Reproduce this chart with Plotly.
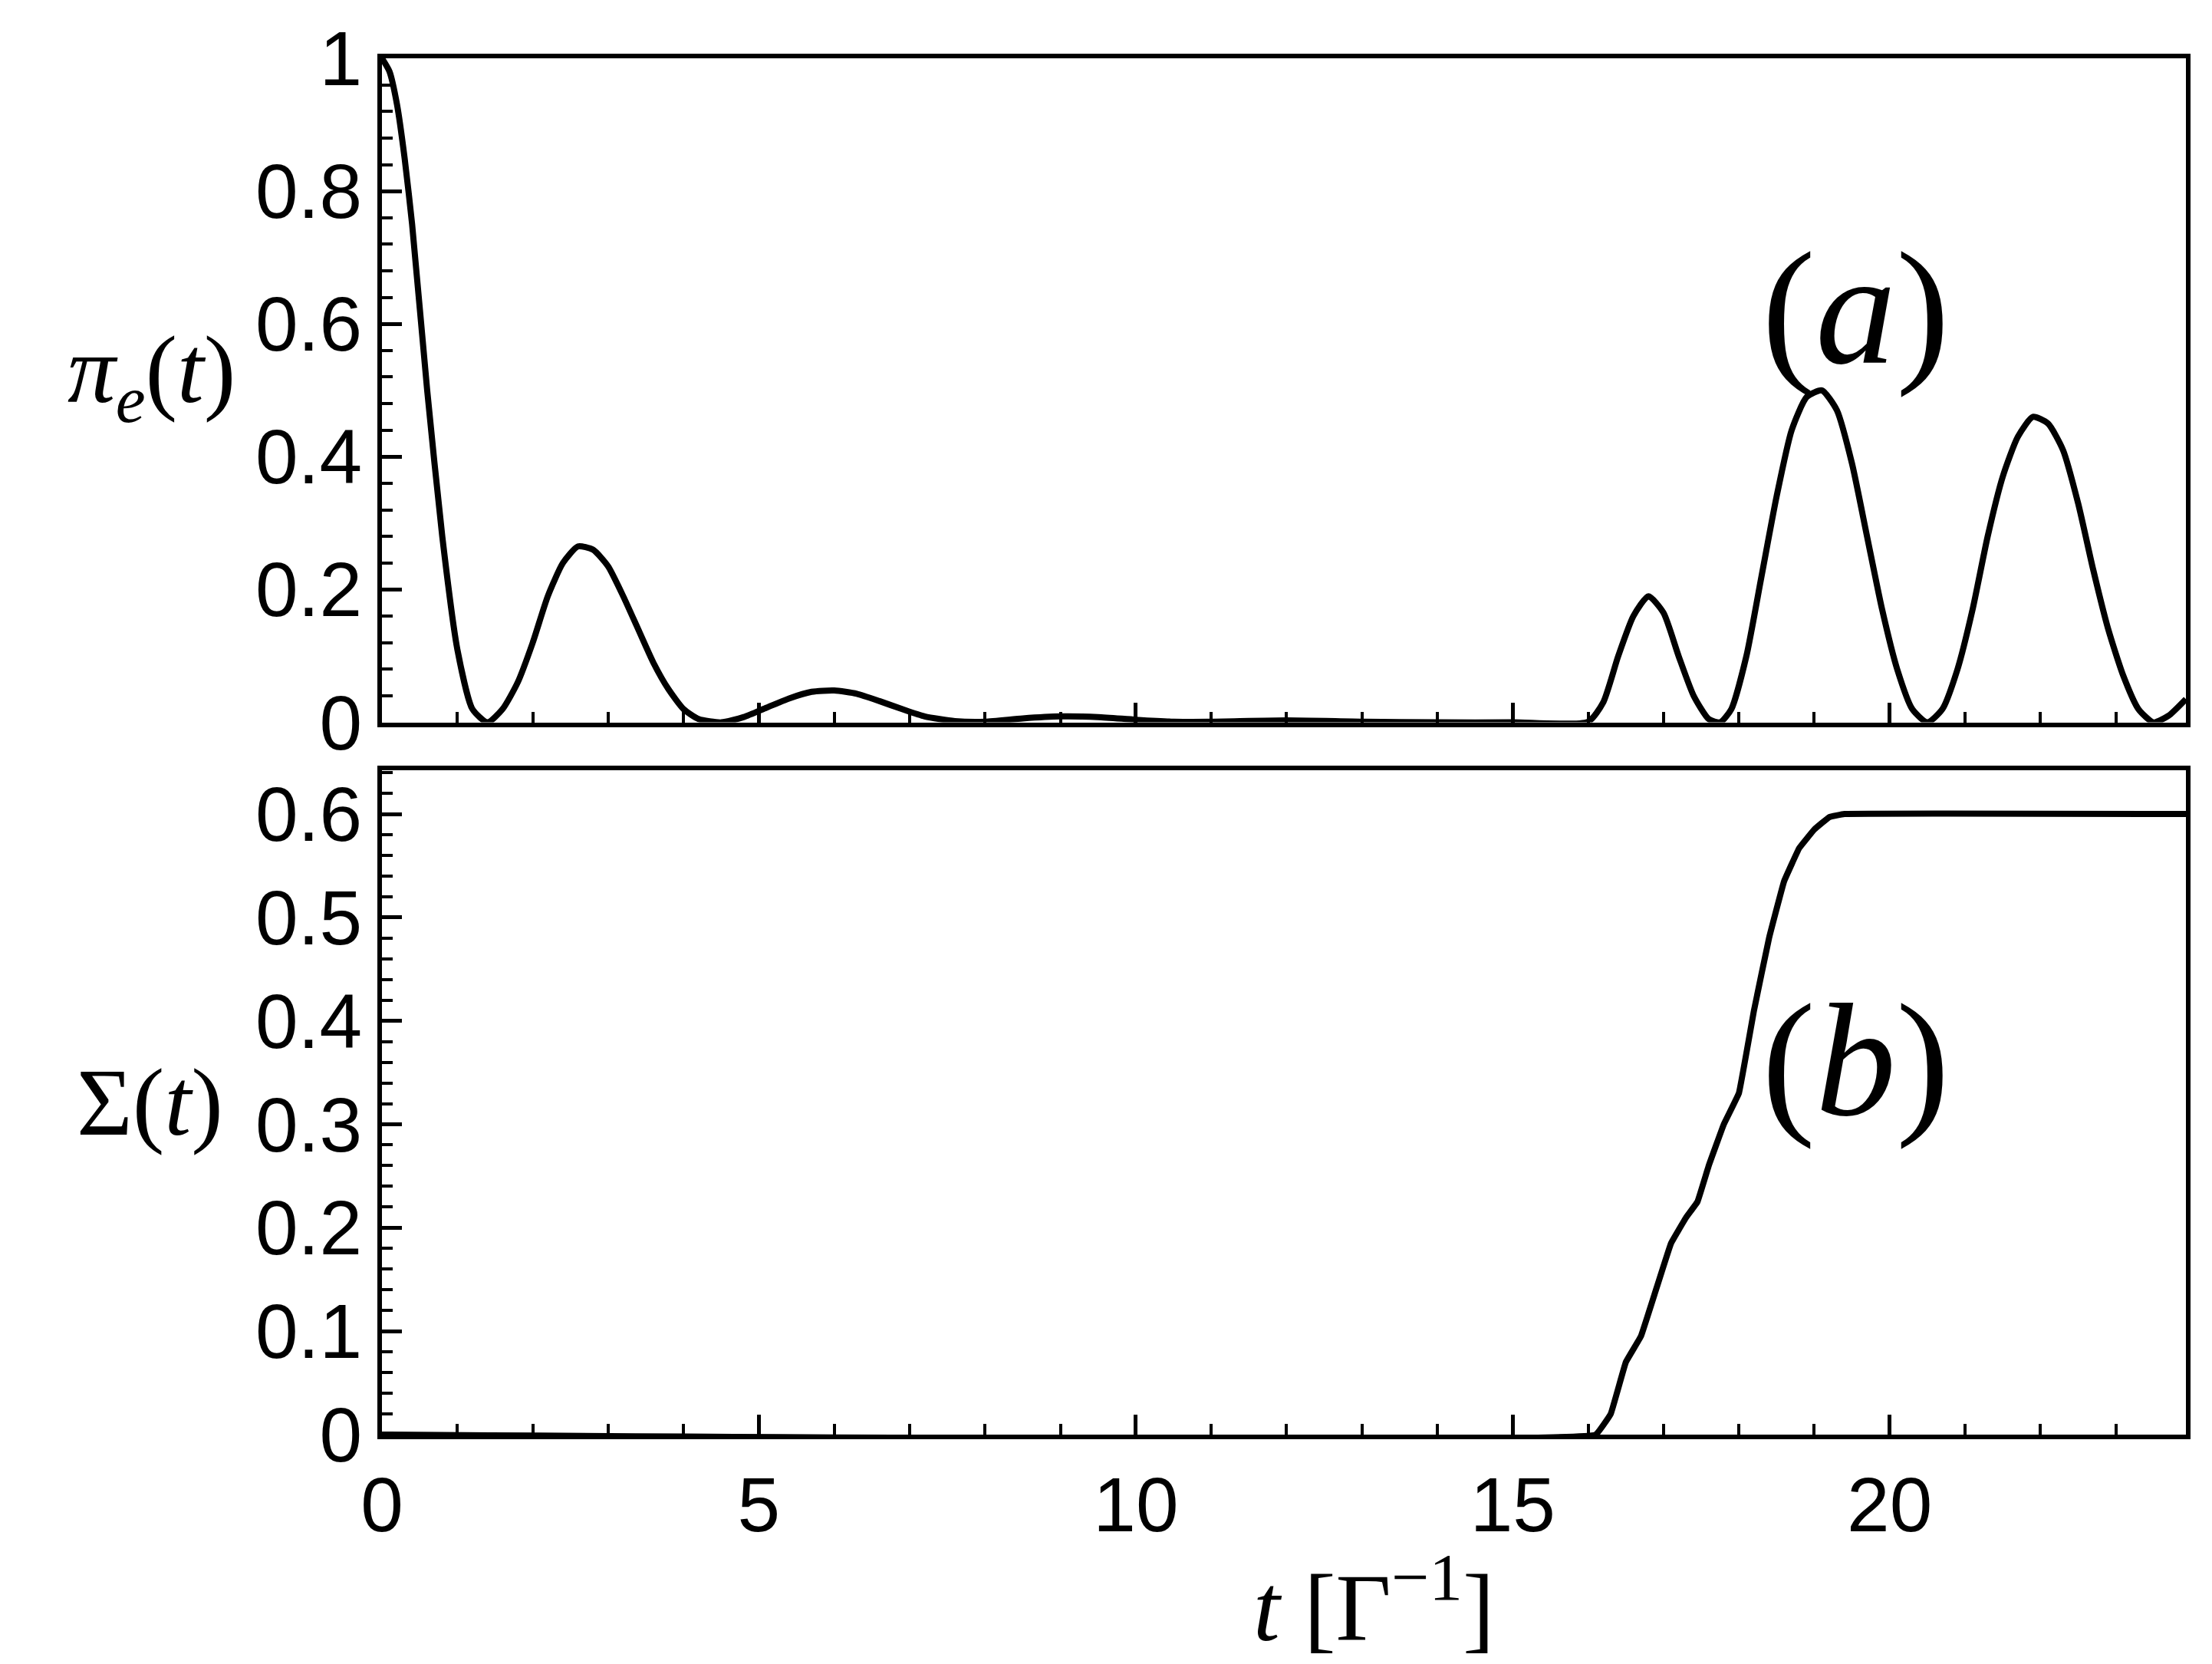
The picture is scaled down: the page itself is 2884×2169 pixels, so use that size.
import plotly.graph_objects as go
from plotly.subplots import make_subplots

t_a = [0,0.1,0.2,0.3,0.4,0.6,0.8,1.0,1.2,1.4,1.6,1.8,2.0,2.2,2.4,2.6,2.8,3.0,3.2,3.4,3.6,3.8,4.0,4.2,4.5,4.8,5.1,5.4,5.7,6.0,6.3,6.6,6.9,7.2,7.6,8.0,8.5,9.0,9.5,10.0,10.5,11,12,13,14,15,16,16.2,16.4,16.6,16.8,17.0,17.2,17.4,17.6,17.75,17.9,18.1,18.3,18.5,18.7,18.9,19.1,19.3,19.5,19.7,19.9,20.1,20.3,20.5,20.7,20.9,21.1,21.3,21.5,21.7,21.9,22.1,22.3,22.5,22.7,22.9,23.1,23.3,23.5,23.7,23.93]
pi_e = [1.0,0.98,0.93,0.85,0.75,0.5,0.28,0.11,0.02,0.0,0.02,0.06,0.12,0.19,0.24,0.265,0.26,0.235,0.19,0.14,0.09,0.05,0.02,0.005,0.0,0.008,0.022,0.036,0.046,0.048,0.043,0.032,0.02,0.009,0.002,0.001,0.006,0.009,0.008,0.004,0.001,0.001,0.003,0.001,0.0,0.0,0.001,0.03,0.1,0.16,0.19,0.165,0.1,0.04,0.005,0.0,0.02,0.1,0.22,0.34,0.44,0.49,0.5,0.47,0.39,0.28,0.17,0.08,0.02,0.0,0.02,0.08,0.17,0.28,0.37,0.43,0.46,0.45,0.41,0.33,0.23,0.14,0.07,0.02,0.0,0.01,0.035]

t_b = [0,16.1,16.3,16.5,16.7,16.9,17.1,17.3,17.45,17.6,17.8,18.0,18.2,18.4,18.6,18.8,19.0,19.2,19.4,23.93]
sigma = [0,0,0.02,0.07,0.095,0.14,0.185,0.21,0.225,0.26,0.3,0.33,0.41,0.48,0.535,0.567,0.585,0.597,0.6,0.6]

fig = make_subplots(rows=2, cols=1, shared_xaxes=True, vertical_spacing=0.035)
fig.add_trace(go.Scatter(x=t_a, y=pi_e, mode="lines", line=dict(color="black", width=8, shape="spline", smoothing=0.6)), 1, 1)
fig.add_trace(go.Scatter(x=t_b, y=sigma, mode="lines", line=dict(color="black", width=8, shape="spline", smoothing=0.2)), 2, 1)

tf = dict(family="Liberation Sans, Arial", size=100, color="black")
mn = dict(ticks="inside", ticklen=14, tickwidth=4, tickcolor="black")
common = dict(showline=True, mirror=True, linecolor="black", linewidth=6, ticks="inside",
              ticklen=26, tickwidth=5, tickcolor="black", showgrid=False, zeroline=False, tickfont=tf)
fig.update_xaxes(range=[0, 23.93], dtick=5, minor=dict(dtick=1, **mn), **common)
fig.update_xaxes(showticklabels=False, row=1, col=1)
fig.update_yaxes(range=[0, 1], tickvals=[0,0.2,0.4,0.6,0.8,1], ticktext=["0","0.2","0.4","0.6","0.8","1"],
                 minor=dict(dtick=0.04, **mn), row=1, col=1, **common)
fig.update_yaxes(range=[0, 0.642], tickvals=[0,0.1,0.2,0.3,0.4,0.5,0.6], ticktext=["0","0.1","0.2","0.3","0.4","0.5","0.6"],
                 minor=dict(dtick=0.02, **mn), row=2, col=1, **common)

sf = dict(family="Liberation Serif, Times New Roman", color="black")
fig.add_annotation(text="(<i>a</i>)", xref="x domain", yref="y domain", x=0.87, y=0.76, showarrow=False, font=dict(size=210, **sf))
fig.add_annotation(text="(<i>b</i>)", xref="x2 domain", yref="y2 domain", x=0.87, y=0.7, showarrow=False, font=dict(size=210, **sf))
fig.add_annotation(text="<i>π<sub>e</sub></i>(<i>t</i>)", xref="paper", yref="y domain", x=-0.175, y=0.52, xanchor="left", showarrow=False, font=dict(size=125, **sf))
fig.add_annotation(text="Σ(<i>t</i>)", xref="paper", yref="y2 domain", x=-0.17, y=0.5, xanchor="left", showarrow=False, font=dict(size=125, **sf))
fig.add_annotation(text="<i>t</i> [Γ<sup>−1</sup>]", xref="x2 domain", yref="paper", x=0.55, y=-0.075, yanchor="top", showarrow=False, font=dict(size=125, **sf))

fig.update_layout(width=2884, height=2169, showlegend=False, plot_bgcolor="white", paper_bgcolor="white",
                  margin=dict(l=490, r=42, t=61, b=307))
fig.write_html("out.html")
